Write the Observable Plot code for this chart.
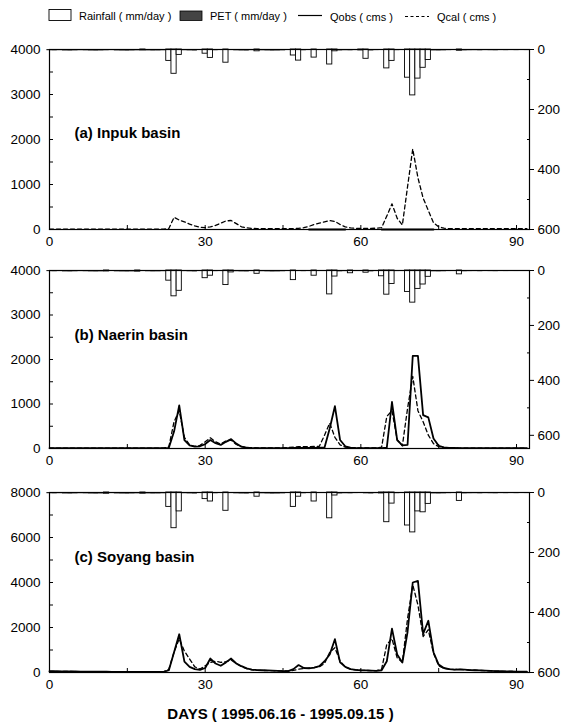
<!DOCTYPE html>
<html><head><meta charset="utf-8">
<script src="https://cdn.jsdelivr.net/npm/d3@7"></script>
<script src="https://cdn.jsdelivr.net/npm/@observablehq/plot@0.6"></script>
<style>
html,body{margin:0;padding:0;background:#fff;overflow:hidden;}
#page{position:relative;width:561px;height:726px;font-family:"Liberation Sans",Arial,sans-serif;color:#000;}
.layer{position:absolute;left:0;}
.layer svg{display:block;}
#legend{position:absolute;left:0;top:0;}
#xtitle{position:absolute;left:0;width:561px;text-align:center;top:705px;font-size:15px;font-weight:bold;}
</style></head>
<body><div id="page"></div>
<script>
// ---------- data ----------
const days = d3.range(0, 93);
const xTicks = [0, 30, 60, 90];
const xMinorTicks = [0, 15, 30, 45, 60, 75, 90];

const panelLabels = ["(a) Inpuk basin", "(b) Naerin basin", "(c) Soyang basin"];
const legendLabels = ["Rainfall ( mm/day )", "PET ( mm/day )", "Qobs ( cms )", "Qcal ( cms )"];
const xTitle = "DAYS ( 1995.06.16 - 1995.09.15 )";

// left-axis (discharge, cms) ticks
const qTicksA = [0, 1000, 2000, 3000, 4000];
const qMinorA = [500, 1500, 2500, 3500];
const qTicksC = [0, 2000, 4000, 6000, 8000];
const qMinorC = [1000, 3000, 5000, 7000];
// right-axis (rainfall, mm/day) ticks
const rTicks = [0, 200, 400, 600];
const rMinor = [100, 300, 500];

// daily PET (mm/day)
const pet = [4.1,4.5,3.8,4.9,5.2,4.6,3.9,4.4,5.0,5.3,
             4.8,4.2,3.6,4.7,5.1,5.4,4.9,4.3,3.7,4.5,
             5.0,4.8,4.1,2.2,1.8,2.5,3.9,4.6,5.1,3.2,
             2.6,2.9,4.0,2.4,2.1,3.4,4.3,4.9,5.2,3.8,
             3.1,4.2,4.8,5.3,5.0,4.4,3.0,2.3,2.7,4.1,
             3.3,4.5,2.8,2.0,2.4,3.6,4.7,3.9,4.3,3.5,
             2.9,4.2,4.8,3.6,2.5,2.2,3.1,3.8,2.1,1.7,
             2.0,2.6,3.3,4.0,4.6,4.9,4.4,3.7,3.2,4.1,
             4.5,4.0,3.8,4.3,3.6,3.9,4.2,3.5,3.8,3.4,
             3.7,3.3,3.5];

// rainfall (mm/day)
const rainDaysA = [18,23,24,25,30,31,34,40,47,48,51,54,55,60,61,65,66,69,70,71,72,73,79];
const rainA     = [3,38,81,18,14,28,44,6,20,37,27,50,6,3,31,63,38,94,153,97,61,35,4];
const rainDaysB = [11,17,23,24,25,30,31,34,35,40,47,51,54,55,58,61,64,65,66,69,70,71,72,73,79];
const rainB     = [3,4,37,94,74,28,19,53,7,12,35,19,87,22,10,8,21,88,49,78,117,67,51,23,14];
const rainDaysC = [11,18,23,24,25,30,31,34,40,47,48,51,54,55,64,65,66,69,70,71,72,73,79];
const rainC     = [4,4,48,119,63,22,30,61,14,48,14,30,86,10,3,99,37,110,133,63,66,38,28];

// discharge (cms), day 0..92
const n = null;
const qobsA = [n,n,n,n,n,n,n,n,n,n, n,n,n,n,n,n,n,n,n,n,
               n,n,n,n,n,n,n,n,n,n, n,n,n,n,n,n,n,n,n,n,
               n,n,n,n,n,n,n,n,n,n, 0,0,0,0,0,0,0,0,n,n,
               n,n,n,n,0,0,0,0,0,0, 0,0,0,0,0,n,n,n,n,n,
               n,n,n,n,n,n,n,n,n,n, n,n,n];
const qcalA = [10,10,10,10,10,10,10,10,10,10,
               10,10,10,10,10,10,10,10,10,10,
               10,10,10,20,270,210,170,120,80,50,
               40,60,90,140,190,200,130,60,35,25,
               20,20,20,20,20,20,20,20,25,40,
               70,110,140,170,200,180,110,60,35,25,
               25,25,25,30,40,300,570,250,100,950,
               1790,1150,700,420,150,60,30,20,20,20,
               20,20,20,20,20,20,20,20,20,20,
               20,20,20];
const qobsB = [10,10,10,10,10,10,10,10,10,10,
               10,10,10,10,10,10,10,10,10,10,
               10,10,10,15,380,970,190,70,40,50,
               100,190,120,80,150,210,110,40,20,12,
               10,10,10,10,10,10,10,12,15,15,
               15,15,18,20,450,950,190,50,20,12,
               10,10,10,10,10,20,1045,190,70,80,
               2080,2080,750,700,225,60,25,15,12,10,
               10,10,10,10,10,10,10,10,10,10,
               10,10,10];
const qcalB = [10,10,10,10,10,10,10,10,10,10,
               10,10,10,10,10,10,10,10,10,10,
               10,10,10,40,600,850,250,80,50,70,
               150,240,150,100,170,190,90,40,25,15,
               15,15,15,15,15,15,20,30,40,40,
               40,45,50,300,570,250,80,30,20,15,
               12,12,12,12,30,720,850,200,60,900,
               1620,850,600,300,110,40,20,15,12,10,
               10,10,10,10,10,10,10,10,10,10,
               10,10,10];
const qobsC = [60,55,50,50,45,45,40,40,40,35,
               35,35,30,30,30,30,30,30,30,30,
               30,30,30,100,900,1700,480,250,150,120,
               200,620,400,300,450,620,400,280,180,130,
               110,100,90,80,70,60,60,150,330,200,
               180,220,280,500,800,1480,450,250,150,120,
               100,90,80,70,100,500,1950,800,440,1800,
               4000,4070,1720,2300,900,350,200,150,130,140,
               130,110,100,90,80,70,60,55,50,45,
               40,40,40];
const qcalC = [50,50,45,45,45,40,40,40,40,40,
               40,40,40,40,35,35,35,35,35,35,
               35,35,35,150,900,1500,950,600,250,150,
               300,450,500,450,480,550,400,260,170,120,
               100,90,85,80,75,70,70,90,150,180,
               200,220,250,400,900,1100,500,250,150,120,
               100,90,85,80,150,1250,1500,650,450,2400,
               3900,3000,1600,1900,850,300,180,150,130,140,
               130,110,100,90,80,70,60,55,50,45,
               40,40,40];

// ---------- layout ----------
const W = 561, ML = 49, MR = 32, MT = 10, MB = 26;
const FONT = "Liberation Sans, Arial, sans-serif";
const xDomain = [0, 92.5];
const fmt = d3.format("d");

const panels = [
  {label: panelLabels[0], frameTop: 49,  frameH: 180, qMax: 4000, qTicks: qTicksA, qMinor: qMinorA, rMax: 600,
   rainDays: rainDaysA, rain: rainA, qobs: qobsA, qcal: qcalA, labelDy: 84},
  {label: panelLabels[1], frameTop: 270, frameH: 178, qMax: 4000, qTicks: qTicksA, qMinor: qMinorA, rMax: 648,
   rainDays: rainDaysB, rain: rainB, qobs: qobsB, qcal: qcalB, labelDy: 65},
  {label: panelLabels[2], frameTop: 492, frameH: 180, qMax: 8000, qTicks: qTicksC, qMinor: qMinorC, rMax: 600,
   rainDays: rainDaysC, rain: rainC, qobs: qobsC, qcal: qcalC, labelDy: 65}
];

const page = document.getElementById("page");

function addLayer(node, top) {
  const div = document.createElement("div");
  div.className = "layer";
  div.style.top = top + "px";
  div.appendChild(node);
  page.appendChild(div);
}

for (const p of panels) {
  const H = MT + p.frameH + MB;
  const top = p.frameTop - MT;
  const qData = days.map((d, i) => ({day: d, qobs: p.qobs[i], qcal: p.qcal[i]}));
  const petData = days.map((d, i) => ({day: d, pet: pet[i]}));
  const rainData = p.rainDays.map((d, i) => ({day: d, rain: p.rain[i]}));

  const common = {
    width: W, height: H, marginLeft: ML, marginRight: MR, marginTop: MT, marginBottom: MB,
    style: {fontFamily: FONT, fontSize: "13.5px", color: "#000", background: "transparent", overflow: "visible"}
  };

  const qPlot = Plot.plot({
    ...common,
    x: {domain: xDomain},
    y: {domain: [0, p.qMax]},
    marks: [
      Plot.axisY(p.qTicks, {tickSize: 0, tickPadding: 9, label: null, fontSize: 13.5, tickFormat: fmt}),
      Plot.axisY(p.qTicks.concat(p.qMinor), {tickSize: 4, text: null, dx: 4, label: null}),
      Plot.axisX(xTicks, {tickSize: 0, tickPadding: 7, label: null, fontSize: 13.5, tickFormat: fmt}),
      Plot.axisX(xMinorTicks, {tickSize: 4, text: null, dy: -4, label: null}),
      Plot.line(qData, {x: "day", y: "qcal", stroke: "#000", strokeWidth: 1.3, strokeDasharray: "4,3"}),
      Plot.line(qData, {x: "day", y: "qobs", stroke: "#000", strokeWidth: 1.8}),
      Plot.text([p.label], {frameAnchor: "top-left", dx: 25, dy: p.labelDy, text: d => d,
        textAnchor: "start", lineAnchor: "middle", fontSize: 15, fontWeight: "bold", fill: "#000"})
    ]
  });
  addLayer(qPlot, top);

  const rPlot = Plot.plot({
    ...common,
    x: {domain: xDomain, axis: null},
    y: {domain: [0, p.rMax], reverse: true},
    marks: [
      Plot.rect(petData, {x1: d => d.day - 0.5, x2: d => d.day + 0.5, y1: 0, y2: "pet", fill: "#222"}),
      Plot.rect(rainData, {x1: d => d.day - 0.5, x2: d => d.day + 0.5, y1: 0, y2: "rain",
        fill: "#fff", stroke: "#000", strokeWidth: 0.9}),
      Plot.axisY(rTicks, {anchor: "right", tickSize: 4, tickPadding: 4, label: null, fontSize: 13.5, tickFormat: fmt}),
      Plot.axisY(rMinor, {anchor: "right", tickSize: 3, text: null, dx: -3, label: null}),
      Plot.frame({stroke: "#000", strokeWidth: 1.2})
    ]
  });
  addLayer(rPlot, top);
}

// ---------- legend ----------
const lg = d3.create("svg").attr("width", W).attr("height", 30).attr("id", "legend")
  .style("font-family", FONT).style("font-size", "11px");
lg.append("rect").attr("x", 49).attr("y", 9.5).attr("width", 22).attr("height", 11)
  .attr("fill", "#fff").attr("stroke", "#000").attr("stroke-width", 0.9);
lg.append("text").attr("x", 79).attr("y", 20).text(legendLabels[0]);
lg.append("rect").attr("x", 180).attr("y", 11).attr("width", 22).attr("height", 9.5)
  .attr("fill", "#444").attr("stroke", "#000").attr("stroke-width", 0.8);
lg.append("text").attr("x", 210).attr("y", 20).text(legendLabels[1]);
lg.append("line").attr("x1", 298).attr("x2", 322).attr("y1", 15.5).attr("y2", 15.5)
  .attr("stroke", "#000").attr("stroke-width", 1.2);
lg.append("text").attr("x", 330).attr("y", 20.5).text(legendLabels[2]);
lg.append("line").attr("x1", 405).attr("x2", 429).attr("y1", 16.5).attr("y2", 16.5)
  .attr("stroke", "#000").attr("stroke-width", 1.1).attr("stroke-dasharray", "3,2.5");
lg.append("text").attr("x", 437).attr("y", 21).text(legendLabels[3]);
page.appendChild(lg.node());

const xt = document.createElement("div");
xt.id = "xtitle";
xt.textContent = xTitle;
page.appendChild(xt);
</script>
</body></html>
